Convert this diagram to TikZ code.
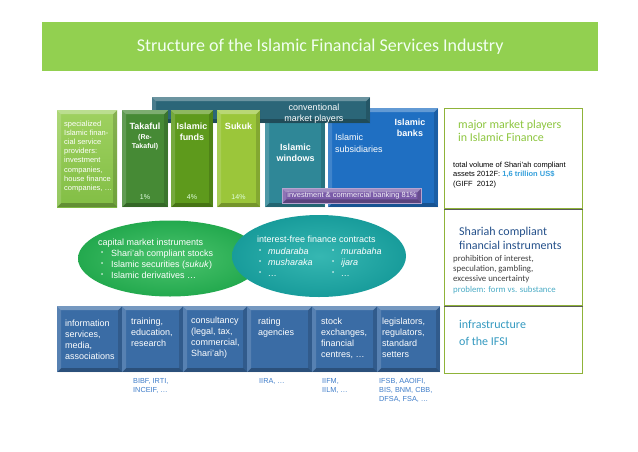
\documentclass[tikz,border=0pt]{standalone}
\usepackage{fontspec}
\setmainfont{Liberation Sans}
\newfontfamily\carlito{Carlito}
\usetikzlibrary{shapes.geometric}

\definecolor{titlegreen}{HTML}{92D050}
\definecolor{banksB}{HTML}{1F6FC2}
\definecolor{windT}{HTML}{2F8797}
\definecolor{convT}{HTML}{2B6678}
\definecolor{specTop}{HTML}{9FD160}
\definecolor{specBot}{HTML}{82BE45}
\definecolor{takG}{HTML}{468A35}
\definecolor{fundG}{HTML}{5E9A1C}
\definecolor{sukG}{HTML}{9BC63A}
\definecolor{purp}{HTML}{7A5BA8}
\definecolor{ellGin}{HTML}{4CC46E}
\definecolor{ellGout}{HTML}{23A94E}
\definecolor{ellTin}{HTML}{36B7B2}
\definecolor{ellTout}{HTML}{189C9B}
\definecolor{botB}{HTML}{3A6CA5}
\definecolor{panelG}{HTML}{8FB339}
\definecolor{divgrey}{HTML}{5A5A5A}
\definecolor{mgreen}{HTML}{8DC63F}
\definecolor{lblue}{HTML}{35A0DC}
\definecolor{dblue}{HTML}{24508A}
\definecolor{probblue}{HTML}{4BACC6}
\definecolor{infblue}{HTML}{3399C0}
\definecolor{labblue}{HTML}{3D7CC9}
\definecolor{smallgrey}{HTML}{404040}

\tikzset{
  bevel/.style={path picture={
    \fill[white,opacity=.30] (path picture bounding box.north west) -- (path picture bounding box.north east)
      -- ([shift={(-4pt,-4pt)}]path picture bounding box.north east) -- ([shift={(4pt,-4pt)}]path picture bounding box.north west) -- cycle;
    \fill[white,opacity=.15] (path picture bounding box.north west) -- ([shift={(4pt,-4pt)}]path picture bounding box.north west)
      -- ([shift={(4pt,4pt)}]path picture bounding box.south west) -- (path picture bounding box.south west) -- cycle;
    \fill[black,opacity=.15] (path picture bounding box.north east) -- ([shift={(-4pt,-4pt)}]path picture bounding box.north east)
      -- ([shift={(-4pt,4pt)}]path picture bounding box.south east) -- (path picture bounding box.south east) -- cycle;
    \fill[black,opacity=.25] (path picture bounding box.south west) -- ([shift={(4pt,4pt)}]path picture bounding box.south west)
      -- ([shift={(-4pt,4pt)}]path picture bounding box.south east) -- (path picture bounding box.south east) -- cycle;
  }},
  tbox/.style={rectangle, inner sep=0pt, anchor=north west, bevel},
  panelbox/.style={rectangle, draw=panelG, line width=1.3pt, inner sep=0pt, anchor=north west, minimum width=138pt},
  divider/.style={draw=divgrey, line width=1.1pt},
  wtxt/.style={text=white, inner sep=0pt},
  blk/.style={inner sep=0pt, anchor=north west, align=left},
}

\begin{document}
\begin{tikzpicture}[x=1pt,y=-1pt]
\useasboundingbox (0,0) rectangle (638,451);
\fill[white] (0,0) rectangle (638,451);

% title
\node[rectangle, fill=titlegreen, minimum width=556pt, minimum height=49pt, anchor=north west, inner sep=0pt,
      text=white!95!green, font=\carlito\fontsize{18}{21}\selectfont] (title) at (42,22)
      {Structure of the Islamic Financial Services Industry};

% top row blocks
\node[tbox, fill=banksB, minimum width=110pt, minimum height=99pt] (banks) at (328,108) {};
\node[tbox, fill=windT, minimum width=60pt, minimum height=90pt] (windows) at (265,117) {};
\node[tbox, fill=convT, minimum width=218pt, minimum height=26pt] (conv) at (152,97) {};
\node[tbox, top color=specTop, bottom color=specBot, minimum width=60pt, minimum height=97pt] (spec) at (57,110) {};
\node[tbox, fill=takG, minimum width=46pt, minimum height=97pt] (takaful) at (122,110) {};
\node[tbox, fill=fundG, minimum width=42pt, minimum height=97pt] (funds) at (171,110) {};
\node[tbox, fill=sukG, minimum width=43pt, minimum height=97pt] (sukuk) at (217,110) {};
\node[tbox, fill=purp, draw=purp!55!white, line width=.6pt, minimum width=139pt, minimum height=15pt] (ib) at (282,188) {};

% top row texts
\node[blk, wtxt, font=\fontsize{7.5}{9.2}\selectfont] (spect) at (64,120.5)
  {specialized\\Islamic finan-\\cial service\\providers:\\investment\\companies,\\house finance\\companies, …};
\node[wtxt, font=\bfseries\fontsize{9}{11}\selectfont, anchor=north] (takt) at (145,122.5) {Takaful};
\node[wtxt, font=\bfseries\fontsize{7}{9}\selectfont, anchor=north, align=center] (takt2) at (145,134) {(Re-\\Takaful)};
\node[wtxt, font=\bfseries\fontsize{9}{11}\selectfont, anchor=north, align=center] (fundst) at (192,122.5) {Islamic\\funds};
\node[wtxt, font=\bfseries\fontsize{9}{11}\selectfont, anchor=north] (sukt) at (238.5,122.5) {Sukuk};
\node[wtxt, font=\fontsize{7}{9}\selectfont, text=white!88!green] (p1) at (145,197) {1\%};
\node[wtxt, font=\fontsize{7}{9}\selectfont, text=white!88!green] (p2) at (192,197) {4\%};
\node[wtxt, font=\fontsize{7}{9}\selectfont, text=white!88!green] (p3) at (238.5,197) {14\%};
\node[wtxt, font=\fontsize{9}{11}\selectfont, align=center] (convt) at (314,113.5) {conventional\\market players};
\node[wtxt, font=\bfseries\fontsize{9}{11.5}\selectfont, align=center] (windt) at (295.5,153) {Islamic\\windows};
\node[wtxt, font=\bfseries\fontsize{9}{11}\selectfont, align=center] (bankt) at (410,128) {Islamic\\banks};
\node[blk, wtxt, font=\fontsize{9}{12}\selectfont] (subt) at (335,134) {Islamic\\subsidiaries};
\node[wtxt, font=\fontsize{7.5}{9}\selectfont, text=white!90!purp] (ibt) at (352,196) {investment \& commercial banking 81\%};

% ellipses
\node[ellipse, minimum width=184pt, minimum height=76pt, inner sep=0pt, inner color=ellGin, outer color=ellGout] (capm) at (170,258.5) {};
\node[ellipse, minimum width=174pt, minimum height=82pt, inner sep=0pt, inner color=ellTin, outer color=ellTout] (ifc) at (319,256) {};

\node[blk, wtxt, font=\fontsize{9}{11}\selectfont] (capt) at (98,239)
  {capital market instruments};
\node[blk, wtxt, font=\fontsize{6}{11}\selectfont] (capb) at (101,251.5) {•\\•\\•};
\node[blk, wtxt, font=\fontsize{9}{11}\selectfont] (capl) at (111,250)
  {Shari’ah compliant stocks\\Islamic securities (\textit{sukuk})\\Islamic derivatives …};

\node[blk, wtxt, font=\fontsize{9}{11}\selectfont] (ifct) at (257,236)
  {interest-free finance contracts};
\node[blk, wtxt, font=\fontsize{6}{11}\selectfont] (ifcb1) at (259,249.5) {•\\•\\•};
\node[blk, wtxt, font=\itshape\fontsize{9}{11}\selectfont] (ifcl1) at (268,248) {mudaraba\\musharaka\\…};
\node[blk, wtxt, font=\fontsize{6}{11}\selectfont] (ifcb2) at (332,249.5) {•\\•\\•};
\node[blk, wtxt, font=\itshape\fontsize{9}{11}\selectfont] (ifcl2) at (341,248) {murabaha\\ijara\\…};

% bottom row
\node[tbox, fill=botB, minimum width=65pt, minimum height=66pt] (info) at (57,306) {};
\node[tbox, fill=botB, minimum width=61pt, minimum height=66pt] (train) at (122,306) {};
\node[tbox, fill=botB, minimum width=64pt, minimum height=66pt] (cons) at (183,306) {};
\node[tbox, fill=botB, minimum width=65pt, minimum height=66pt] (rate) at (247,306) {};
\node[tbox, fill=botB, minimum width=65pt, minimum height=66pt] (stock) at (312,306) {};
\node[tbox, fill=botB, minimum width=63pt, minimum height=66pt] (legis) at (377,306) {};

\node[blk, wtxt, font=\fontsize{9}{11}\selectfont] (infot) at (65,320) {information\\services,\\media,\\associations};
\node[blk, wtxt, font=\fontsize{9}{11}\selectfont] (traint) at (131,318) {training,\\education,\\research};
\node[blk, wtxt, font=\fontsize{9}{11}\selectfont] (const) at (191,317) {consultancy\\(legal, tax,\\commercial,\\Shari’ah)};
\node[blk, wtxt, font=\fontsize{9}{11}\selectfont] (ratet) at (258,318) {rating\\agencies};
\node[blk, wtxt, font=\fontsize{9}{11}\selectfont] (stockt) at (321,318) {stock\\exchanges,\\financial\\centres, …};
\node[blk, wtxt, font=\fontsize{9}{11}\selectfont] (legist) at (382,318) {legislators,\\regulators,\\standard\\setters};

\node[blk, text=labblue, font=\fontsize{7.3}{9}\selectfont] (l1) at (133,378) {BIBF, IRTI,\\INCEIF, …};
\node[blk, text=labblue, font=\fontsize{7.3}{9}\selectfont] (l2) at (259,378) {IIRA, …};
\node[blk, text=labblue, font=\fontsize{7.3}{9}\selectfont] (l3) at (322,378) {IIFM,\\IILM, …};
\node[blk, text=labblue, font=\fontsize{7.3}{9}\selectfont] (l4) at (379,378) {IFSB, AAOIFI,\\BIS, BNM, CBB,\\DFSA, FSA, …};

% right panel
\node[panelbox, minimum height=100pt] (pmk) at (444,108) {};
\node[panelbox, minimum height=97pt] (psh) at (444,208) {};
\node[panelbox, minimum height=68pt] (pin) at (444,305) {};
\draw[divider] (pmk.south west) -- (pmk.south east);
\draw[divider] (psh.south west) -- (psh.south east);

\node[blk, text=mgreen, font=\carlito\fontsize{12}{13}\selectfont] (mkt) at (458,119.5) {major market players\\in Islamic Finance};
\node[blk, text=black, font=\fontsize{7.5}{9.5}\selectfont] (vol) at (453,161.5)
  {total volume of Shari’ah compliant\\assets 2012F: \textcolor{lblue}{\bfseries 1,6 trillion US\$}\\(GIFF\ \ 2012)};
\node[blk, text=dblue, font=\carlito\fontsize{12}{14}\selectfont] (sht) at (459,227) {Shariah compliant\\financial instruments};
\node[blk, text=smallgrey, font=\carlito\fontsize{8.8}{10.3}\selectfont] (shs) at (453,255)
  {prohibition of interest,\\speculation, gambling,\\excessive uncertainty\\\textcolor{probblue}{problem: form vs. substance}};
\node[blk, text=infblue, font=\carlito\fontsize{12}{16.5}\selectfont] (inft) at (459,320.5) {infrastructure\\of the IFSI};
\end{tikzpicture}
\end{document}
